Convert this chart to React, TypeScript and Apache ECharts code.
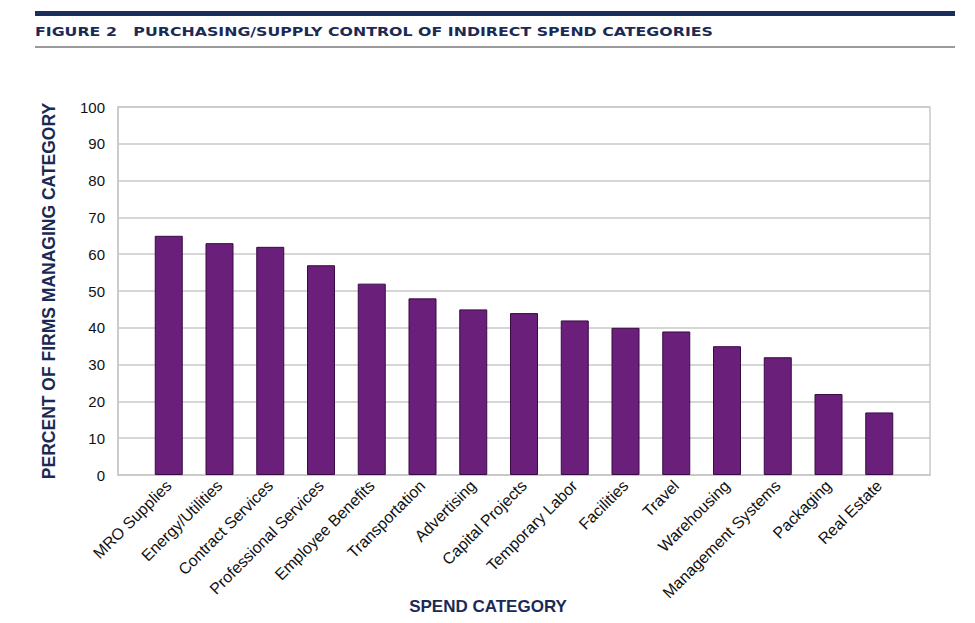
import React, { useEffect, useRef } from "react";
import * as echarts from "echarts";

// Share of firms whose purchasing/supply function manages each indirect spend category (%)
const categories = [
  "MRO Supplies",
  "Energy/Utilities",
  "Contract Services",
  "Professional Services",
  "Employee Benefits",
  "Transportation",
  "Advertising",
  "Capital Projects",
  "Temporary Labor",
  "Facilities",
  "Travel",
  "Warehousing",
  "Management Systems",
  "Packaging",
  "Real Estate",
];
const percentManaged = [65, 63, 62, 57, 52, 48, 45, 44, 42, 40, 39, 35, 32, 22, 17];
const yTicks = [0, 10, 20, 30, 40, 50, 60, 70, 80, 90, 100];

const NAVY = "#1b2a55";
const GRID_GRAY = "#c9c9c9";
const FONT = "Liberation Sans, Arial, sans-serif";

export default function App() {
  const ref = useRef<HTMLDivElement>(null);

  useEffect(() => {
    if (!ref.current) return;
    const chart = echarts.init(ref.current, null, { renderer: "svg" });

    // an empty slot on each side keeps a gap between the plot edge and the outer bars
    const axisData = ["", ...categories, ""];
    const seriesData: (number | string)[] = ["-", ...percentManaged, "-"];

    chart.setOption({
      animation: false,
      backgroundColor: "#ffffff",
      textStyle: { fontFamily: FONT },
      graphic: [
        {
          type: "rect",
          shape: { x: 35, y: 11, width: 920, height: 5 },
          style: { fill: "#1c2f5c" },
          silent: true,
        },
        {
          type: "text",
          x: 35,
          y: 32,
          scaleY: 0.8,
          style: {
            text: "FIGURE 2   PURCHASING/SUPPLY CONTROL OF INDIRECT SPEND CATEGORIES",
            fill: NAVY,
            font: "bold 15.8px 'DejaVu Sans', sans-serif",
            verticalAlign: "middle",
          },
        },
        {
          type: "line",
          shape: { x1: 35, y1: 47, x2: 955, y2: 47 },
          style: { stroke: "#7a7a7a", lineWidth: 1.5 },
          silent: true,
        },
        {
          type: "text",
          x: 488,
          y: 606,
          style: {
            text: "SPEND CATEGORY",
            fill: NAVY,
            font: `bold 17px ${FONT}`,
            align: "center",
            verticalAlign: "middle",
          },
        },
      ],
      grid: {
        left: 118,
        right: 45,
        top: 107,
        bottom: 148,
        show: true,
        borderColor: GRID_GRAY,
        borderWidth: 1.5,
      },
      xAxis: {
        type: "category",
        data: axisData,
        boundaryGap: false,
        axisLine: { lineStyle: { color: GRID_GRAY, width: 1.5 } },
        axisTick: { show: false },
        axisLabel: {
          interval: 0,
          rotate: 45,
          margin: 8,
          color: "#111111",
          fontSize: 16,
        },
      },
      yAxis: {
        type: "value",
        min: 0,
        max: 100,
        interval: 10,
        name: "PERCENT OF FIRMS MANAGING CATEGORY",
        nameLocation: "middle",
        nameGap: 60,
        nameTextStyle: {
          color: NAVY,
          fontWeight: "bold",
          fontSize: 17.5,
          fontFamily: FONT,
        },
        axisLine: { show: true, lineStyle: { color: GRID_GRAY, width: 1.5 } },
        axisTick: { show: false },
        axisLabel: {
          margin: 13,
          color: "#111111",
          fontSize: 15,
          customValues: yTicks,
        },
        splitLine: { lineStyle: { color: GRID_GRAY, width: 1.5 } },
      },
      series: [
        {
          type: "bar",
          data: seriesData,
          barWidth: 28,
          itemStyle: {
            color: "#6a1f7a",
            borderColor: "#3a0a45",
            borderWidth: 1,
          },
        },
      ],
    });

    return () => chart.dispose();
  }, []);

  return <div ref={ref} style={{ width: 975, height: 623, position: "absolute", left: 0, top: 0 }} />;
}
